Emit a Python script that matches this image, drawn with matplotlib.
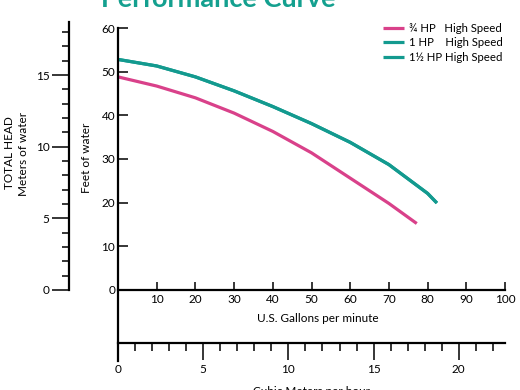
import matplotlib
matplotlib.use('Agg')
from matplotlib import pyplot as plt
from matplotlib.ticker import MultipleLocator, FixedLocator

plt.rcParams['font.family'] = ['Lato', 'DejaVu Sans']

PINK = '#d9418a'
TEAL = '#139a8f'

# flow (US gpm) vs total head (ft)
gpm_075 = [0, 10, 20, 30, 40, 50, 60, 70, 77.2]
head_075 = [48.8, 46.7, 44.0, 40.5, 36.3, 31.4, 25.6, 19.8, 15.2]

gpm_100 = [0, 10, 20, 30, 40, 50, 60, 70, 80, 82.4]
head_100 = [52.8, 51.3, 48.8, 45.6, 42.0, 38.1, 33.8, 28.7, 22.1, 19.9]

# the 1 1/2 HP curve sits on top of the 1 HP one
gpm_150 = [0, 10, 20, 30, 40, 50, 60, 70, 80, 82.4]
head_150 = [52.8, 51.3, 48.8, 45.6, 42.0, 38.1, 33.8, 28.7, 22.1, 19.9]

series_labels = ['\u00be HP   High Speed', '1 HP    High Speed', '1\u00bd HP High Speed']
series_colors = [PINK, TEAL, TEAL]

gpm_ticks = [10, 20, 30, 40, 50, 60, 70, 80, 90, 100]
feet_ticks = [0, 10, 20, 30, 40, 50, 60]
meter_ticks = [0, 5, 10, 15]
meter_minor = list(range(0, 19))
m3h_ticks = [0, 5, 10, 15, 20]

GPM_TO_M3H = 0.227125
FT_TO_M = 0.3048

W, H = 520, 390
fig = plt.figure(figsize=(W / 100, H / 100), dpi=100)

# axes placed so that (0 gpm, 0 ft) sits at pixel (118, 290)
y_min = -16.3
ax = fig.add_axes([118 / W, 1 - 361 / H, 387 / W, (361 - 28) / H])
ax.set_xlim(0, 100)
ax.set_ylim(y_min, 60)

for q, h, lab, col in zip([gpm_075, gpm_100, gpm_150],
                          [head_075, head_100, head_150],
                          series_labels, series_colors):
    ax.plot(q, h, color=col, lw=2.3, label=lab, solid_capstyle='butt')

for s in ['top', 'right']:
    ax.spines[s].set_visible(False)
ax.spines['bottom'].set_position(('data', 0))
for s in ['left', 'bottom']:
    ax.spines[s].set_linewidth(1.6)

ax.set_xticks(gpm_ticks)
ax.set_yticks(feet_ticks)
ax.tick_params(axis='x', direction='in', length=6, width=1.1, pad=3, labelsize=8.5)
ax.tick_params(axis='y', direction='in', length=7, width=1.1, pad=2, labelsize=8.5)

ax.text(318 / W, 1 - 318 / H, 'U.S. Gallons per minute', transform=fig.transFigure,
        ha='center', va='center', fontsize=8.5)

# meters of water on the left
sec_y = ax.secondary_yaxis((69 - 118) / 387,
                           functions=(lambda x: x * FT_TO_M, lambda x: x / FT_TO_M))
sec_y.yaxis.set_major_locator(FixedLocator(meter_ticks))
sec_y.yaxis.set_minor_locator(FixedLocator(meter_minor))
sec_y.spines['left'].set_bounds(0, 18.7)
sec_y.spines['left'].set_linewidth(1.6)
sec_y.tick_params(which='major', direction='out', length=12, width=1.1, pad=2, labelsize=8.5)
sec_y.tick_params(which='minor', direction='out', length=5, width=1.1)

# cubic meters per hour at the bottom
loc_b = (-12.14 - y_min) / (60 - y_min)
sec_x = ax.secondary_xaxis(loc_b,
                           functions=(lambda x: x * GPM_TO_M3H, lambda x: x / GPM_TO_M3H))
sec_x.set_xticks(m3h_ticks)
sec_x.xaxis.set_minor_locator(MultipleLocator(1))
sec_x.spines['bottom'].set_linewidth(1.6)
sec_x.tick_params(which='major', direction='out', length=12, width=1.1, pad=3, labelsize=8.5)
sec_x.tick_params(which='minor', direction='out', length=6, width=1.1)
sec_x.set_xlabel('Cubic Meters per hour', fontsize=8.5, labelpad=8)

fig.text(87 / W, 1 - 158 / H, 'Feet of water', rotation=90, ha='center', va='center', fontsize=8.5)
fig.text(10 / W, 1 - 153 / H, 'TOTAL HEAD', rotation=90, ha='center', va='center', fontsize=8.5)
fig.text(24 / W, 1 - 154 / H, 'Meters of water', rotation=90, ha='center', va='center', fontsize=8.5)

fig.text(218 / W, 1 - 7 / H, 'Performance Curve', ha='center', va='baseline',
         fontsize=19.5, fontweight='bold', color='#14a08f')

ax.legend(loc='upper left', bbox_to_anchor=(383 / W, 1 - 23 / H),
          bbox_transform=fig.transFigure, frameon=False, fontsize=8.2,
          handlelength=1.8, handletextpad=0.5, labelspacing=0.3,
          borderpad=0, borderaxespad=0)

fig.savefig('out.png', dpi=100)
